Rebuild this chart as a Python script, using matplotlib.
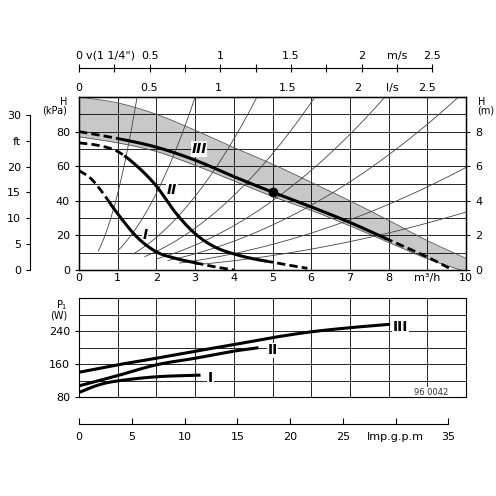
import numpy as np
import matplotlib.pyplot as plt

# Head curves (m3/h, kPa)
q3 = [0, 1, 2, 3, 4, 5, 6, 7, 8, 9, 9.66]
h3 = [80, 76, 71, 63.5, 54, 45, 36.5, 27.5, 17.5, 7.5, 0]
q2 = [0, 0.5, 1.0, 1.5, 2, 2.5, 3, 3.5, 4, 4.5, 5, 5.5, 5.9]
h2 = [73.5, 72, 68.5, 60, 48.5, 33, 21, 13.4, 9.3, 6.5, 4.5, 2.5, 1]
q1 = [0, 0.3, 0.6, 1.0, 1.5, 2, 2.5, 3, 3.5, 4]
h1 = [57.5, 53, 45, 32.5, 19, 10.5, 6.7, 4.2, 1.9, 0]
band_q = [0, 1, 2, 3, 4, 5, 6, 7, 8, 9, 10]
band_hi = [100, 96.6, 90, 80.8, 70.8, 61.2, 50.7, 40, 28.7, 17, 6.7]
band_lo = [77, 73.5, 68.5, 60.5, 51.5, 42.5, 34.5, 25.5, 16, 6.5, -1]
op_q, op_h = 5.02, 45
# system curves H = k*Q^2
sys_k = [44.4, 11.1, 4.73, 2.69, 1.6, 1.04, 0.593, 0.335]
sys_q0 = [0.5, 1.0, 1.4, 1.7, 2.0, 2.3, 2.6, 3.0]
# Power curves (m3/h, W)
pq3 = [0, 1, 2, 3, 4, 5, 6, 7, 8]
p3 = [140, 158, 174, 191, 207, 224, 238, 248, 256]
pq2 = [0, 1, 2, 3, 4, 4.6]
p2 = [107, 132, 158, 174, 191, 199]
pq1 = [0, 0.5, 1, 2, 3.1]
p1 = [91, 109, 119, 129, 133]

def smooth(x, y, n=20):
    x = np.asarray(x, float); y = np.asarray(y, float)
    P = np.column_stack([x, y])
    P = np.vstack([2*P[0]-P[1], P, 2*P[-1]-P[-2]])
    out = []
    for i in range(1, len(P)-2):
        p0, p1_, p2_, p3_ = P[i-1], P[i], P[i+1], P[i+2]
        for t in np.linspace(0, 1, n, endpoint=False):
            out.append(0.5*((2*p1_) + (-p0+p2_)*t + (2*p0-5*p1_+4*p2_-p3_)*t**2 + (-p0+3*p1_-3*p2_+p3_)*t**3))
    out.append(P[-2])
    out = np.array(out)
    return out[:, 0], out[:, 1]

fs = 8
fig = plt.figure(figsize=(4.96, 4.96), dpi=100)
W = 496.
def rect(x0, y0, x1, y1):
    return [x0/W, 1-y1/W, (x1-x0)/W, (y1-y0)/W]

ax = fig.add_axes(rect(79, 97, 466, 270))
ax.set_xlim(0, 10); ax.set_ylim(0, 100)
bx_, bh_ = smooth(band_q, band_hi); _, bl_ = smooth(band_q, band_lo)
ax.fill_between(bx_, bl_, bh_, color='#c8c8c8', lw=0, zorder=1)
ax.plot(bx_, bh_, color='#555', lw=0.6, zorder=2)
ax.plot(bx_, bl_, color='#555', lw=0.6, zorder=2)
for k, q0 in zip(sys_k, sys_q0):
    qq = np.linspace(q0, min(10, np.sqrt(100/k)), 60)
    ax.plot(qq, k*qq**2, color='#444', lw=0.6, zorder=2)
for x in range(1, 10):
    ax.axvline(x, color='k', lw=0.6, zorder=1.5)
for y in range(10, 100, 10):
    ax.axhline(y, color='k', lw=0.6, zorder=1.5)

def split(q, h, a, b):
    qq, hh = smooth(q, h)
    ax.plot(qq[qq <= a+0.02], hh[qq <= a+0.02], 'k--', lw=2, dashes=(3, 1.5), zorder=4)
    m = (qq >= a) & (qq <= b)
    ax.plot(qq[m], hh[m], 'k-', lw=2.2, zorder=4)
    ax.plot(qq[qq >= b-0.02], hh[qq >= b-0.02], 'k--', lw=2, dashes=(3, 1.5), zorder=4)
split(q3, h3, 1.2, 7.9)
split(q2, h2, 1.2, 4.8)
split(q1, h1, 0.8, 3.0)
ax.plot(op_q, op_h, 'ko', ms=6, zorder=5)
for t, x, y in [('III', 3.1, 70), ('II', 2.4, 46), ('I', 1.7, 20)]:
    ax.text(x, y, t, fontsize=10, fontweight='bold', fontstyle='italic', ha='center', va='center',
            bbox=dict(fc='white', ec='none', pad=0.5), zorder=3)
ax.set_yticks([0, 20, 40, 60, 80])
ax.set_xticks(range(11))
ax.set_xticklabels(['0', '1', '2', '3', '4', '5', '6', '7', '8', 'm³/h', '10'])
ax.tick_params(labelsize=fs, length=3, width=0.8)
ax.tick_params(axis='x', pad=2, length=0)
ax.text(-0.3, 100, 'H\n(kPa)', fontsize=fs-1, ha='right', va='top', linespacing=0.8)
for s in ax.spines.values(): s.set_linewidth(1)
axr = ax.twinx(); axr.set_ylim(0, 10); axr.set_yticks([0, 2, 4, 6, 8])
axr.tick_params(labelsize=fs, length=3)
ax.text(10.3, 100, 'H\n(m)', fontsize=fs-1, ha='left', va='top', linespacing=0.8)
sec = ax.secondary_xaxis('top', functions=(lambda x: x/3.6, lambda x: x*3.6))
sec.set_xticks([0, 0.5, 1, 1.5, 2, 2.25, 2.5])
sec.set_xticklabels(['0', '0.5', '1', '1.5', '2', 'l/s', '2.5'])
sec.tick_params(labelsize=fs, length=0, pad=3)

# m/s axis
am = fig.add_axes(rect(79, 68, 466, 69))
am.set_xlim(0, 10/3.65); am.set_ylim(0, 1)
for s in ['left', 'right', 'bottom']: am.spines[s].set_visible(False)
am.spines['top'].set_bounds(0, 2.5)
am.set_yticks([])
am.xaxis.set_ticks_position('top')
tk = np.arange(0, 2.51, 0.25)
am.set_xticks(tk)
lab = {0.5: '0.5', 1.0: '1', 1.5: '1.5', 2.0: '2', 2.25: 'm/s', 2.5: '2.5'}
am.set_xticklabels([lab.get(round(t, 2), '0' if t == 0 else '') for t in tk])
am.tick_params(labelsize=fs, direction='inout', length=6, pad=2)
fig.text(86/W, 1-55/W, 'v(1 1/4")', fontsize=fs, va='center', ha='left')
am.patch.set_alpha(0)

# ft axis
af = fig.add_axes(rect(30, 97, 31, 270))
af.set_ylim(0, 100/2.989)
for s in ['top', 'right', 'bottom']: af.spines[s].set_visible(False)
af.spines['left'].set_bounds(0, 30)
af.set_xticks([])
af.set_yticks([0, 5, 10, 15, 20, 25, 30])
af.set_yticklabels(['0', '5', '10', '15', '20', 'ft', '30'])
af.tick_params(labelsize=fs, length=3)
af.patch.set_alpha(0)

# power
bx = fig.add_axes(rect(79, 298, 466, 397))
bx.set_xlim(0, 10); bx.set_ylim(80, 320)
for x in range(1, 10):
    bx.axvline(x, color='k', lw=0.6)
for y in range(120, 320, 40):
    bx.axhline(y, color='k', lw=0.6)
for q, p, t, xt in [(pq3, p3, 'III', 8.3), (pq2, p2, 'II', 5.0), (pq1, p1, 'I', 3.4)]:
    sq, sp = smooth(q, p)
    bx.plot(sq, sp, 'k-', lw=2.2, zorder=4)
    bx.text(xt, p[-1]-6, t, fontsize=10, fontweight='bold', ha='center', va='center',
            bbox=dict(fc='white', ec='none', pad=0.5), zorder=3)
bx.set_yticks([80, 160, 240]); bx.set_xticks([])
bx.tick_params(labelsize=fs, length=3)
bx.text(9.1, 92, '96 0042', fontsize=fs-2, color='#333', ha='center', va='center',
        bbox=dict(fc='white', ec='none', pad=0.3))
bx.text(-0.3, 320, 'P$_1$\n(W)', fontsize=fs-1, ha='right', va='top', linespacing=0.8)

# Imp gpm axis
ag = fig.add_axes(rect(79, 423, 466, 424))
ag.set_xlim(0, 10*3.666); ag.set_ylim(0, 1)
for s in ['left', 'right', 'top']: ag.spines[s].set_visible(False)
ag.spines['bottom'].set_bounds(0, 35)
ag.set_yticks([])
ag.set_xticks([0, 5, 10, 15, 20, 25, 30, 35])
ag.set_xticklabels(['0', '5', '10', '15', '20', '25', 'Imp.g.p.m', '35'])
ag.tick_params(labelsize=fs, direction='in', length=4, pad=6)
ag.patch.set_alpha(0)

fig.savefig('out.png', dpi=100)
